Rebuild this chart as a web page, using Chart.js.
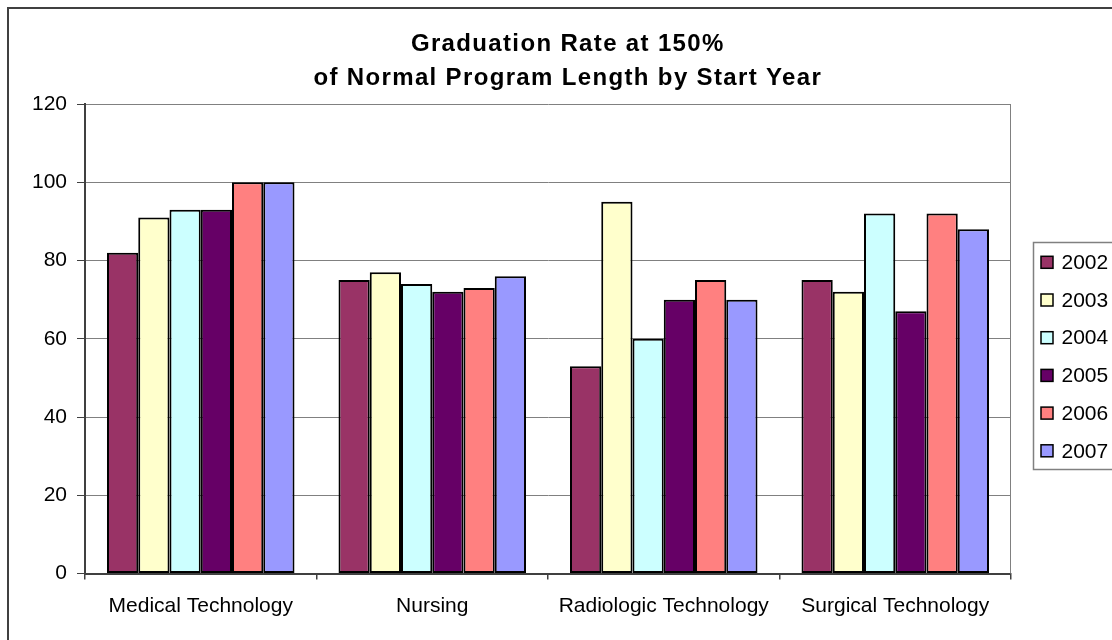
<!DOCTYPE html>
<html>
<head>
<meta charset="utf-8">
<script src="https://cdn.jsdelivr.net/npm/chart.js@4"></script>
<style>
html,body{margin:0;padding:0;background:#fff;}
#wrap{width:1112px;height:640px;position:relative;}
</style>
</head>
<body>
<div id="wrap"><canvas id="c" width="1112" height="640"></canvas></div>
<script>
const categories = ["Medical Technology", "Nursing", "Radiologic Technology", "Surgical Technology"];
const seriesNames = ["2002", "2003", "2004", "2005", "2006", "2007"];
const values2002 = [82, 75, 53, 75];
const values2003 = [91, 77, 95, 72];
const values2004 = [93, 74, 60, 92];
const values2005 = [93, 72, 70, 67];
const values2006 = [100, 73, 75, 92];
const values2007 = [100, 76, 70, 88];
const yTicks = [0, 20, 40, 60, 80, 100, 120];
const titleLines = ["Graduation Rate at 150%", "of Normal Program Length by Start Year"];

const seriesValues = [values2002, values2003, values2004, values2005, values2006, values2007];
const seriesColors = ["#993366", "#FFFFCC", "#CCFFFF", "#660066", "#FF8080", "#9999FF"];
const FONT = "'Liberation Sans', Arial, sans-serif";

const frame = {
  id: 'frame',
  beforeDraw(chart) {
    const ctx = chart.ctx;
    ctx.save();
    ctx.fillStyle = '#fff';
    ctx.fillRect(0, 0, chart.width, chart.height);
    ctx.strokeStyle = '#404040';
    ctx.lineWidth = 2;
    ctx.strokeRect(8, 8, 1300, 800);
    ctx.restore();
    // title letter spacing + centre shift
    const tb = chart.titleBlock;
    if (tb && !tb._wrapped) {
      const orig = tb.draw;
      tb.draw = function () {
        const c = this.ctx;
        c.save();
        c.letterSpacing = '1.35px';
        c.translate(62.3, 0);
        orig.apply(this, arguments);
        c.restore();
      };
      tb._wrapped = true;
    }
  },
  beforeDatasetsDraw(chart) {
    const a = chart.chartArea, ctx = chart.ctx;
    ctx.save();
    ctx.strokeStyle = '#808080';
    ctx.lineWidth = 1;
    ctx.beginPath();
    ctx.moveTo(Math.round(a.right) - 0.5, a.top);
    ctx.lineTo(Math.round(a.right) - 0.5, a.bottom);
    ctx.stroke();
    ctx.restore();
  },
  afterDraw(chart) {
    const ctx = chart.ctx;
    ctx.save();
    // legend box
    ctx.strokeStyle = '#808080';
    ctx.lineWidth = 1.5;
    ctx.strokeRect(1033.5, 242.5, 200, 227);
    const ds = chart.data.datasets;
    ctx.font = '21px ' + FONT;
    ctx.textBaseline = 'middle';
    ctx.textAlign = 'left';
    ds.forEach((d, i) => {
      const cy = 262.3 + i * 37.7;
      ctx.fillStyle = d.backgroundColor;
      ctx.fillRect(1041, cy - 6, 12, 12);
      ctx.strokeStyle = '#000';
      ctx.lineWidth = 1.5;
      ctx.strokeRect(1041, cy - 6, 12, 12);
      ctx.fillStyle = '#000';
      ctx.fillText(d.label, 1061.5, cy + 1);
    });
    ctx.restore();
  }
};

new Chart(document.getElementById('c'), {
  type: 'bar',
  data: {
    labels: categories,
    datasets: seriesNames.map((n, i) => ({
      label: n,
      data: seriesValues[i],
      backgroundColor: seriesColors[i],
      borderColor: '#000',
      borderWidth: 2,
      borderSkipped: false,
      categoryPercentage: 0.81,
      barPercentage: 1.0
    }))
  },
  options: {
    responsive: false,
    animation: false,
    devicePixelRatio: 1,
    layout: { padding: { left: 0, right: 101, top: 0, bottom: 0 } },
    plugins: {
      legend: { display: false },
      tooltip: { enabled: false },
      title: {
        display: true,
        text: titleLines,
        color: '#000',
        font: { family: FONT, size: 24, weight: 'bold', lineHeight: 34 / 24 },
        padding: { top: 27, bottom: 9 }
      }
    },
    scales: {
      x: {
        offset: true,
        grid: { offset: true, drawOnChartArea: false, drawTicks: true, tickLength: 6, tickColor: '#404040', lineWidth: 1.5 },
        border: { display: true, color: '#404040', width: 2 },
        ticks: { color: '#000', font: { family: FONT, size: 21 }, padding: 14, maxRotation: 0, autoSkip: false },
        afterFit(s) { s.height = 66.5; }
      },
      y: {
        min: 0, max: 120,
        afterBuildTicks(s) { s.ticks = yTicks.map(v => ({ value: v })); },
        grid: { color: '#808080', lineWidth: 1, tickLength: 8, tickColor: '#404040' },
        border: { display: true, color: '#404040', width: 2 },
        ticks: { color: '#000', font: { family: FONT, size: 21 }, padding: 10 },
        afterFit(s) { s.width = 85; }
      }
    }
  },
  plugins: [frame]
});
</script>
</body>
</html>
